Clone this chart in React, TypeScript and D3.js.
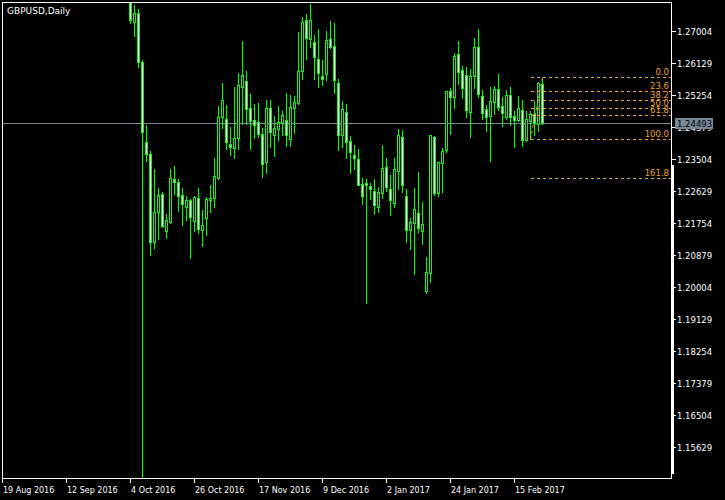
import React from 'react';
import * as d3 from 'd3';

const chartTitle = 'GBPUSD,Daily';
const firstBarIndex = 32;

const opens = [1.2868,1.2725,1.2748,1.2614,1.2396,1.2363,1.2123,1.2204,1.2254,1.2154,
1.2179,1.2295,1.2286,1.2251,1.2220,1.2238,1.2182,1.2243,1.2156,1.2188,
1.2238,1.2243,1.2299,1.2464,1.2458,1.2391,1.2381,1.2406,1.2546,1.2563,
1.2488,1.2456,1.2450,1.2417,1.2343,1.2488,1.2415,1.2431,1.2447,1.2456,
1.2404,1.2488,1.2504,1.2591,1.2729,1.2677,1.2670,1.2622,1.2576,1.2581,
1.2677,1.2658,1.2557,1.2415,1.2477,1.2398,1.2360,1.2349,1.2281,1.2284,
1.2275,1.2262,1.2220,1.2258,1.2327,1.2268,1.2229,1.2318,1.2410,1.2248,
1.2157,1.2174,1.2202,1.2154,1.1990,1.2040,1.2410,1.2258,1.2338,1.2374,
1.2536,1.2520,1.2636,1.2593,1.2578,1.2479,1.2577,1.2655,1.2521,1.2486,
1.2468,1.2506,1.2540,1.2494,1.2465,1.2524,1.2466,1.2456,1.2484,1.2403,
1.2454,1.2472,1.2445,1.2554];

const highs = [1.2880,1.2773,1.2761,1.2622,1.2446,1.2375,1.2325,1.2273,1.2263,1.2202,
1.2325,1.2334,1.2297,1.2274,1.2252,1.2243,1.2252,1.2273,1.2213,1.2250,
1.2282,1.2355,1.2497,1.2560,1.2500,1.2440,1.2549,1.2587,1.2675,1.2593,
1.2529,1.2504,1.2506,1.2438,1.2514,1.2514,1.2469,1.2496,1.2484,1.2533,
1.2527,1.2525,1.2699,1.2740,1.2748,1.2777,1.2691,1.2708,1.2622,1.2702,
1.2729,1.2724,1.2570,1.2511,1.2503,1.2415,1.2391,1.2380,1.2302,1.2297,
1.2286,1.2298,1.2276,1.2391,1.2355,1.2310,1.2355,1.2435,1.2432,1.2271,
1.2191,1.2273,1.2317,1.2235,1.2085,1.2417,1.2415,1.2344,1.2383,1.2538,
1.2547,1.2641,1.2675,1.2607,1.2604,1.2598,1.2682,1.2708,1.2540,1.2500,
1.2549,1.2552,1.2585,1.2522,1.2541,1.2549,1.2484,1.2525,1.2514,1.2484,
1.2484,1.2511,1.2563,1.2575];

const lows = [1.2720,1.2687,1.2602,1.1450,1.2345,1.2088,1.2106,1.2132,1.2165,1.2135,
1.2176,1.2254,1.2209,1.2170,1.2183,1.2081,1.2154,1.2149,1.2112,1.2142,
1.2205,1.2220,1.2295,1.2435,1.2377,1.2361,1.2354,1.2377,1.2446,1.2445,
1.2377,1.2408,1.2409,1.2302,1.2313,1.2384,1.2359,1.2402,1.2415,1.2386,
1.2386,1.2420,1.2501,1.2569,1.2623,1.2657,1.2569,1.2547,1.2553,1.2566,
1.2653,1.2531,1.2375,1.2384,1.2354,1.2313,1.2323,1.2278,1.2228,1.1958,
1.2240,1.2201,1.2205,1.2244,1.2263,1.2198,1.2220,1.2268,1.2261,1.2124,
1.2105,1.2037,1.2151,1.2119,1.1985,1.2015,1.2251,1.2249,1.2261,1.2368,
1.2419,1.2490,1.2556,1.2517,1.2465,1.2411,1.2543,1.2518,1.2460,1.2427,
1.2345,1.2474,1.2483,1.2440,1.2459,1.2443,1.2384,1.2454,1.2386,1.2400,
1.2404,1.2415,1.2426,1.2445];

const closes = [1.2728,1.2748,1.2616,1.2424,1.2363,1.2124,1.2204,1.2252,1.2168,1.2183,
1.2297,1.2286,1.2250,1.2228,1.2238,1.2191,1.2245,1.2159,1.2170,1.2240,
1.2243,1.2304,1.2464,1.2511,1.2397,1.2384,1.2406,1.2551,1.2578,1.2486,
1.2455,1.2442,1.2417,1.2335,1.2488,1.2423,1.2434,1.2450,1.2469,1.2415,
1.2491,1.2505,1.2589,1.2723,1.2679,1.2729,1.2628,1.2584,1.2568,1.2674,
1.2657,1.2565,1.2416,1.2486,1.2396,1.2368,1.2352,1.2279,1.2250,1.2278,
1.2269,1.2224,1.2259,1.2325,1.2274,1.2237,1.2323,1.2416,1.2280,1.2157,
1.2177,1.2213,1.2161,1.2172,1.2041,1.2416,1.2258,1.2341,1.2371,1.2536,
1.2520,1.2631,1.2588,1.2545,1.2484,1.2577,1.2655,1.2527,1.2476,1.2464,
1.2508,1.2540,1.2492,1.2476,1.2524,1.2465,1.2456,1.2488,1.2403,1.2459,
1.2472,1.2447,1.2557,1.24493];

const dateTickIndex = [0, 16, 32, 48, 64, 80, 96, 112, 128];
const dateTickLabels = ['19 Aug 2016', '12 Sep 2016', '4 Oct 2016', '26 Oct 2016', '17 Nov 2016', '9 Dec 2016', '2 Jan 2017', '24 Jan 2017', '15 Feb 2017'];

const priceTicks = [1.27004, 1.26129, 1.25254, 1.24379, 1.23504, 1.22629, 1.21754, 1.20879, 1.20004, 1.19129, 1.18254, 1.17379, 1.16504, 1.15629];
const bidPrice = 1.24493;

const fibRatios = [0, 0.236, 0.382, 0.5, 0.618, 1, 1.618];
const fibLabels = ['0.0', '23.6', '38.2', '50.0', '61.8', '100.0', '161.8'];
const fibLowBar = 100;
const fibHighBar = 103;

const W = 725;
const H = 500;
const LEFT = 2;
const TOP = 2;
const RIGHT = 671;
const BOTTOM = 478;
const LIME = '#00ff00';
const FIB = '#e8a22c';
const FONT = '"DejaVu Sans", Verdana, sans-serif';

export default function App() {
  const x = d3.scaleLinear().domain([0, 167.25]).range([2.5, 671.5]);
  const y = d3.scaleLinear().domain([1.14764, 1.27785]).range([479, 2]);
  const py = (p: number) => Math.round(y(p)) + 0.5;
  const bx = (i: number) => Math.floor(x(i + firstBarIndex)) + 0.5;

  const fibLow = lows[fibLowBar];
  const fibHigh = highs[fibHighBar];
  const fibX0 = bx(fibLowBar);

  return (
    <div style={{ position: 'absolute', left: 0, top: 0 }}>
      <svg width={W} height={H} style={{ display: 'block', background: '#000' }}>
        <defs>
          <clipPath id="plot">
            <rect x={LEFT + 1} y={TOP + 1} width={RIGHT - LEFT - 1} height={BOTTOM - TOP} />
          </clipPath>
        </defs>
        <rect x={0} y={0} width={W} height={H} fill="#000" />
        <g shapeRendering="crispEdges">
          {/* bid line */}
          <line x1={LEFT} x2={RIGHT} y1={py(bidPrice)} y2={py(bidPrice)} stroke="#778899" strokeWidth={1} />
          <g clipPath="url(#plot)">
            {opens.map((o, i) => {
              const cx = bx(i);
              const c = closes[i];
              const top = py(Math.max(o, c));
              const bot = py(Math.min(o, c));
              const bull = c > o;
              return (
                <g key={i}>
                  <line x1={cx} x2={cx} y1={py(highs[i])} y2={py(lows[i])} stroke={LIME} strokeWidth={1} />
                  <rect x={cx - 1} y={top} width={2} height={Math.max(0, bot - top)} fill={bull ? '#000' : '#fff'} stroke={LIME} strokeWidth={1} />
                </g>
              );
            })}
          </g>
          {/* fibonacci */}
          <g>
            <line x1={fibX0} y1={py(fibLow)} x2={bx(fibHighBar)} y2={py(fibHigh)} stroke={FIB} strokeWidth={1} strokeDasharray="3,3" shapeRendering="auto" />
            {fibRatios.map((r, k) => {
              const p = fibHigh - r * (fibHigh - fibLow);
              const yy = py(p);
              return (
                <g key={k}>
                  <line x1={fibX0} x2={RIGHT} y1={yy} y2={yy} stroke={FIB} strokeWidth={1} strokeDasharray="3,3" />
                  <text x={669} y={yy - 3} textAnchor="end" fill={FIB} fontFamily={FONT} fontSize={8.5} shapeRendering="auto">{fibLabels[k]}</text>
                </g>
              );
            })}
          </g>
          {/* frame */}
          <line x1={LEFT + 0.5} x2={LEFT + 0.5} y1={TOP} y2={BOTTOM + 1} stroke="#fff" />
          <line x1={LEFT} x2={RIGHT + 1} y1={TOP + 0.5} y2={TOP + 0.5} stroke="#fff" />
          <line x1={LEFT} x2={RIGHT + 1} y1={BOTTOM + 0.5} y2={BOTTOM + 0.5} stroke="#fff" />
          <line x1={RIGHT + 0.5} x2={RIGHT + 0.5} y1={TOP} y2={BOTTOM + 1} stroke="#fff" />
          <rect x={RIGHT} y={165} width={3} height={309} fill="#fff" />
          {/* price axis */}
          {priceTicks.map((p, k) => (
            <g key={k}>
              <line x1={RIGHT + 1} x2={RIGHT + 5} y1={py(p)} y2={py(p)} stroke="#fff" />
              <text x={677} y={py(p) + 3.5} fill="#fff" fontFamily={FONT} fontSize={8.5}>{p.toFixed(5)}</text>
            </g>
          ))}
          <rect x={675} y={py(bidPrice) - 5.5} width={38} height={11} fill="#778899" />
          <text x={677} y={py(bidPrice) + 3.5} fill="#000" fontFamily={FONT} fontSize={8.5}>{bidPrice.toFixed(5)}</text>
          {/* date axis */}
          {dateTickIndex.map((idx, k) => {
            const tx = Math.floor(x(idx)) + 0.5;
            return (
              <g key={k}>
                <line x1={tx} x2={tx} y1={BOTTOM + 1} y2={BOTTOM + 5} stroke="#fff" />
                <text x={tx + 0.5} y={493} fill="#fff" fontFamily={FONT} fontSize={8}>{dateTickLabels[k]}</text>
              </g>
            );
          })}
          <text x={7} y={13.5} fill="#fff" fontFamily={FONT} fontSize={9}>{chartTitle}</text>
        </g>
      </svg>
    </div>
  );
}
